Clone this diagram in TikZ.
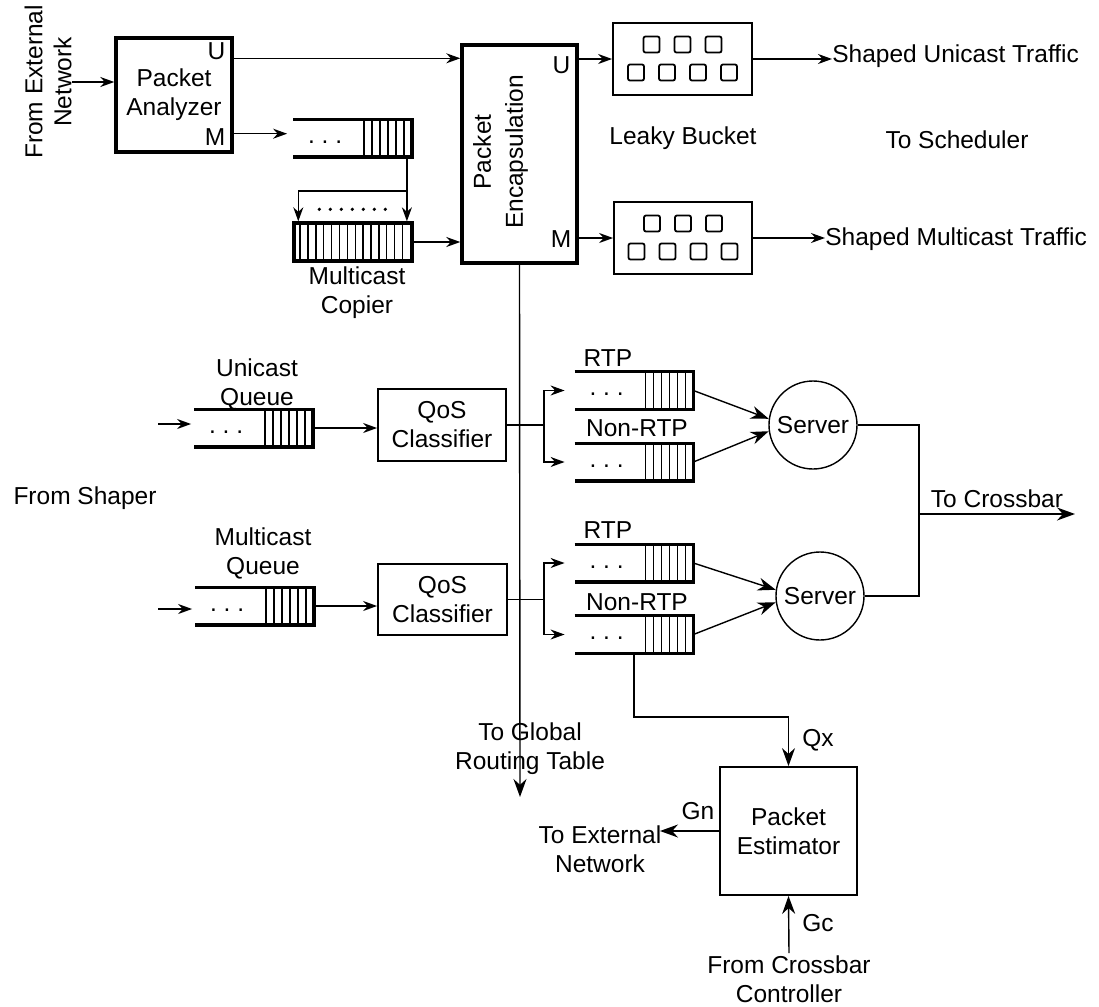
\documentclass[tikz,border=0pt]{standalone}
\usepackage{fontspec}
\setmainfont{Liberation Sans}
\usetikzlibrary{arrows.meta,positioning,calc}
\tikzset{
  box/.style={draw, line width=0.9pt, align=center, inner sep=0pt},
  heavybox/.style={draw, line width=1.7pt, align=center, inner sep=0pt},
  queue/.style={inner sep=0pt, minimum width=59pt, minimum height=18.5pt},
  server/.style={draw, circle, line width=0.7pt, minimum size=44pt, inner sep=0pt},
  lbl/.style={inner sep=0pt, align=center},
  wire/.style={line width=0.7pt},
  edge/.style={-{Stealth[length=7pt,width=5pt]}, line width=0.7pt},
  bigedge/.style={-{Stealth[length=9pt,width=6.5pt]}, line width=0.7pt}
}
% open queue: thick rails, closed right end, six cells on the right
\newcommand{\openqueue}[1]{%
  \draw[line width=1.6pt] (#1.north west) -- (#1.north east) -- (#1.south east) -- (#1.south west);
  \foreach \k in {1,...,6}
    \draw[wire] ($(#1.north east)+(-\k*8,0)$) -- ($(#1.south east)+(-\k*8,0)$);
  \node[lbl] at ($(#1.west)+(32,4)$) {.\ .\ .};
}
% token slots of a leaky bucket
\newcommand{\bucketslots}[1]{%
  \foreach \dx in {-31,0,31}
    \draw[line width=0.9pt, rounded corners=1pt] ($(#1)+(\dx-8,-22.5)$) rectangle ++(16,16);
  \foreach \dx in {-46.5,-15.5,15.5,46.5}
    \draw[line width=0.9pt, rounded corners=1pt] ($(#1)+(\dx-8,5.5)$) rectangle ++(16,16);
}
\begin{document}
\begin{tikzpicture}[x=0.5pt, y=-0.5pt, font=\fontsize{12.25}{14.5}\selectfont]
\useasboundingbox (0,0) rectangle (1099,1007);

% input side
\node[lbl, rotate=90] (fromext) at (48,82) {From External\\Network};
\node[heavybox, minimum width=58pt, minimum height=57pt] (pa) at (174,95) {Packet\\Analyzer};
\node[lbl, anchor=east] at ($(pa.north east)+(-8,15)$) {U};
\node[lbl, anchor=east] at ($(pa.south east)+(-8,-17)$) {M};
\draw[edge] (fromext.south) -- (fromext.south -| pa.west);

\node[queue] (mq) at (352.5,138) {};
\openqueue{mq}
\node[heavybox, minimum width=59pt, minimum height=19pt] (mc) at (353,242) {};
\foreach \k in {1,...,14}
  \draw[wire] ($(mc.north west)+(\k*7.87,0)$) -- ($(mc.south west)+(\k*7.87,0)$);
\foreach \i in {0,...,6}
  \fill ($(mc.north west)+(27+\i*11,-12)$) circle (0.9pt);
\node[lbl] at (357,293) {Multicast\\Copier};

\node[heavybox, minimum width=57.5pt, minimum height=109pt] (enc) at (519.5,154) {};
\node[lbl, rotate=90, font=\fontsize{12.25}{16}\selectfont] at ($(enc.center)+(-19,-2)$) {Packet\\Encapsulation};
\node[lbl, anchor=east] at ($(enc.north east)+(-8,22)$) {U};
\node[lbl, anchor=east] at ($(enc.south east)+(-7,-26)$) {M};

\coordinate (paU) at ($(pa.north east)+(0,22)$);
\coordinate (paM) at ($(pa.south east)+(0,-20)$);
\draw[edge] (paU) -- (paU -| enc.west);
\draw[edge, shorten >=3pt] (paM) -- (paM -| mq.west);
\coordinate (cpsplit) at ($(mq.south east)+(-5,34)$);
\draw[wire] ([xshift=-2.5pt]mq.south east) -- (cpsplit);
\draw[edge] (cpsplit) -- (cpsplit |- mc.north);
\draw[edge] (cpsplit) -| ([xshift=3pt]mc.north west);
\draw[edge] (mc.east) -- (mc.east -| enc.west);

% shaper
\node[box, minimum width=69.5pt, minimum height=36pt] (lb1) at (682.5,59) {};
\node[box, minimum width=69pt, minimum height=36pt] (lb2) at (683,238) {};
\bucketslots{lb1}
\bucketslots{lb2}
\node[lbl] (lbname) at (683,138) {Leaky Bucket};
\node[lbl] (sched) at (957,140) {To Scheduler};
\node[lbl, anchor=west] (sut) at (832,56) {Shaped Unicast Traffic};
\node[lbl, anchor=west] (smt) at (825,239) {Shaped Multicast Traffic};
\draw[edge] (enc.east |- lb1.west) -- (lb1.west);
\draw[edge] (enc.east |- lb2.west) -- (lb2.west);
\draw[edge] (lb1.east) -- (lb1.east -| sut.west);
\draw[edge] (lb2.east) -- (lb2.east -| smt.west);

% output queues
\node[lbl] (shaper) at (85,498) {From Shaper};
\node[queue] (uq) at (253.5,428) {};
\openqueue{uq}
\node[lbl] at (257,384) {Unicast\\Queue};
\node[queue] (mcq) at (254.5,606) {};
\openqueue{mcq}
\node[lbl] at (263,553) {Multicast\\Queue};
\coordinate (uqin) at (158,424);
\coordinate (mcqin) at (158,609);
\draw[edge, shorten >=1.5pt] (uqin) -- (uqin -| uq.west);
\draw[edge, shorten >=1.5pt] (mcqin) -- (mcqin -| mcq.west);

\node[box, minimum width=64pt, minimum height=36pt] (qos1) at (442,425) {QoS\\Classifier};
\node[box, minimum width=64.5pt, minimum height=35.5pt] (qos2) at (442.5,599.5) {QoS\\Classifier};
\draw[edge] (uq.east) -- (uq.east -| qos1.west);
\draw[edge] (mcq.east) -- (mcq.east -| qos2.west);

\node[queue] (rtp1) at (634,390.5) {};
\node[queue] (nrtp1) at (634,462) {};
\node[queue] (rtp2) at (634,563) {};
\node[queue] (nrtp2) at (634,634.5) {};
\openqueue{rtp1}
\openqueue{nrtp1}
\openqueue{rtp2}
\openqueue{nrtp2}
\node[lbl] at (608,358) {RTP};
\node[lbl] at (637,428) {Non-RTP};
\node[lbl] at (608,530) {RTP};
\node[lbl] at (637,602) {Non-RTP};

\coordinate (br1) at ($(qos1.east)+(37,0)$);
\coordinate (br2) at ($(qos2.east)+(36,0)$);
\draw[wire] (qos1.east) -- (br1);
\draw[wire] (qos2.east) -- (br2);
\draw[edge, shorten >=5pt] (br1) |- (rtp1.west);
\draw[edge, shorten >=5pt] (br1) |- (nrtp1.west);
\draw[edge, shorten >=5pt] (br2) |- (rtp2.west);
\draw[edge, shorten >=5pt] (br2) |- (nrtp2.west);

% servers
\node[server] (srv1) at (813,425) {Server};
\node[server] (srv2) at (820,596) {Server};
\draw[bigedge] (rtp1.east) -- (srv1.172);
\draw[bigedge] (nrtp1.east) -- (srv1.188);
\draw[bigedge] (rtp2.east) -- (srv2.172);
\draw[bigedge] (nrtp2.east) -- (srv2.188);
\coordinate (jn) at (919,514);
\coordinate (cbout) at (1075,514);
\draw[wire] (srv1.east) -| (jn);
\draw[wire] (srv2.east) -| (jn);
\draw[bigedge] (jn) -- node[above, inner sep=3pt] {To Crossbar} (cbout);

% routing table
\coordinate (glob) at (520,797);
\draw[bigedge] (enc.south) -- (glob);
\node[lbl] at (530,749) {To Global\\Routing Table};

% estimator
\node[box, minimum width=68.5pt, minimum height=64pt] (pe) at (788.5,831) {Packet\\Estimator};
\coordinate (qxbend) at (634,717);
\draw[bigedge] (nrtp2.south) -- (nrtp2.south |- qxbend) -| (pe.north);
\node[lbl] at (818,740) {Qx};
\coordinate (extout) at (660,831);
\draw[bigedge] (pe.west) -- (extout);
\node[lbl] at (698,811) {Gn};
\node[lbl] at (600,849) {To External\\Network};
\coordinate (gcin) at (789,953);
\draw[bigedge] (gcin) -- (pe.south);
\node[lbl] at (818,923) {Gc};
\node[lbl] at (789,979) {From Crossbar\\Controller};
\end{tikzpicture}
\end{document}
